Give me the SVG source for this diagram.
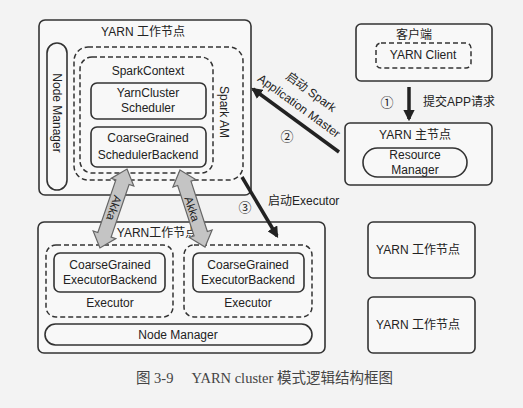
<svg xmlns="http://www.w3.org/2000/svg" width="523" height="408" viewBox="0 0 523 408">
<defs>
<style>
.t{font-family:"Liberation Sans","Noto Sans CJK SC",sans-serif;font-size:12px;fill:#222;text-anchor:middle;dominant-baseline:central}
.solid{fill:#f8f8f8;stroke:#333;stroke-width:1.6}
.dash{fill:none;stroke:#333;stroke-width:1.5;stroke-dasharray:5 3}
.arr{stroke:#222;stroke-width:3.5;fill:none}
.akka{fill:#c4c4c4;stroke:#666;stroke-width:1.2}
.cap{font-family:"Liberation Serif","Noto Sans CJK SC",serif;font-size:14.5px;fill:#444;dominant-baseline:central}
</style>
<marker id="ah" viewBox="0 0 10 10" refX="8" refY="5" markerWidth="3.2" markerHeight="3.2" orient="auto" markerUnits="strokeWidth">
<path d="M0,0 L10,5 L0,10 z" fill="#222"/>
</marker>
</defs>
<rect width="523" height="408" fill="#f3f3f3"/>

<g id="am-node">
<rect class="solid" x="39" y="20" width="212" height="175" rx="6"/>
<text class="t" x="143" y="32">YARN 工作节点</text>
</g>
<g id="nodemanager-top">
<rect class="solid" x="47" y="43" width="20" height="147" rx="10"/>
<text class="t" transform="translate(57,113) rotate(90)">Node Manager</text>
</g>
<g id="spark-am">
<rect class="dash" x="74" y="47" width="169" height="133" rx="14"/>
<text class="t" transform="translate(224,112) rotate(90)">Spark AM</text>
</g>
<g id="sparkcontext">
<rect class="dash" x="80" y="57" width="133" height="116" rx="12"/>
<text class="t" x="148" y="71">SparkContext</text>
</g>
<g id="yarncluster-scheduler">
<rect class="solid" x="91" y="83" width="115" height="36" rx="6"/>
<text class="t" x="148" y="93">YarnCluster</text>
<text class="t" x="148" y="108">Scheduler</text>
</g>
<g id="scheduler-backend">
<rect class="solid" x="91" y="127" width="115" height="40" rx="6"/>
<text class="t" x="148" y="138">CoarseGrained</text>
<text class="t" x="148" y="155">SchedulerBackend</text>
</g>

<g id="client">
<rect class="solid" x="356" y="24" width="136" height="57" rx="5"/>
<text class="t" x="414" y="35">客户端</text>
<rect class="dash" x="376" y="43" width="95" height="25" rx="5"/>
<text class="t" x="423" y="55">YARN Client</text>
</g>
<g id="master">
<rect class="solid" x="345" y="123" width="147" height="62" rx="5"/>
<text class="t" x="415" y="135">YARN 主节点</text>
<rect class="solid" x="363" y="148" width="104" height="29" rx="14.5"/>
<text class="t" x="415" y="155">Resource</text>
<text class="t" x="415" y="170">Manager</text>
</g>

<g id="worker-node">
<rect class="solid" x="38" y="222" width="287" height="131" rx="6"/>
<text class="t" x="157" y="233">YARN工作节点</text>
</g>
<g id="executor-1">
<rect class="dash" x="46" y="245" width="127" height="72" rx="10"/>
<rect class="solid" x="54" y="253" width="111" height="39" rx="6"/>
<text class="t" x="110" y="265">CoarseGrained</text>
<text class="t" x="110" y="280">ExecutorBackend</text>
<text class="t" x="110" y="303">Executor</text>
</g>
<g id="executor-2">
<rect class="dash" x="184" y="245" width="128" height="72" rx="10"/>
<rect class="solid" x="193" y="253" width="111" height="39" rx="6"/>
<text class="t" x="248" y="265">CoarseGrained</text>
<text class="t" x="248" y="280">ExecutorBackend</text>
<text class="t" x="248" y="303">Executor</text>
</g>
<g id="nodemanager-bottom">
<rect class="solid" x="45" y="324" width="267" height="21" rx="10.5"/>
<text class="t" x="178" y="335">Node Manager</text>
</g>

<g id="worker-2">
<rect class="solid" x="368" y="222" width="107" height="56" rx="5"/>
<text class="t" x="418" y="250">YARN 工作节点</text>
</g>
<g id="worker-3">
<rect class="solid" x="368" y="297" width="107" height="56" rx="5"/>
<text class="t" x="418" y="325">YARN 工作节点</text>
</g>

<g id="connectors">
<line class="arr" x1="409" y1="87" x2="409" y2="119" marker-end="url(#ah)"/>
<text class="t" x="387" y="102" style="font-size:13px">①</text>
<text class="t" x="423" y="102" style="text-anchor:start">提交APP请求</text>

<line class="arr" x1="339" y1="152" x2="253" y2="89" marker-end="url(#ah)"/>
<text class="t" transform="translate(311,92) rotate(36)">启动 Spark</text>
<text class="t" transform="translate(299,106) rotate(36)">Application Master</text>
<text class="t" x="287" y="136" style="font-size:13px">②</text>

<line class="arr" x1="242" y1="177" x2="277" y2="236" marker-end="url(#ah)"/>
<text class="t" x="245" y="207" style="font-size:13px">③</text>
<text class="t" x="268" y="201" style="text-anchor:start">启动Executor</text>

<g transform="translate(127,169) rotate(18.9)">
<polygon class="akka" points="0,0 12,14 7,14 7,69.5 12,69.5 0,83.5 -12,69.5 -7,69.5 -7,14 -12,14"/>
</g>
<text class="t" transform="translate(114,208) rotate(108.9)" style="font-size:11.5px">Akka</text>
<g transform="translate(180,170) rotate(-18)">
<polygon class="akka" points="0,0 12,14 7,14 7,67 12,67 0,81 -12,67 -7,67 -7,14 -12,14"/>
</g>
<text class="t" transform="translate(192,209) rotate(72)" style="font-size:11.5px">Akka</text>
</g>

<text class="cap" x="136" y="378" xml:space="preserve">图 3-9     YARN cluster 模式逻辑结构框图</text>
</svg>
